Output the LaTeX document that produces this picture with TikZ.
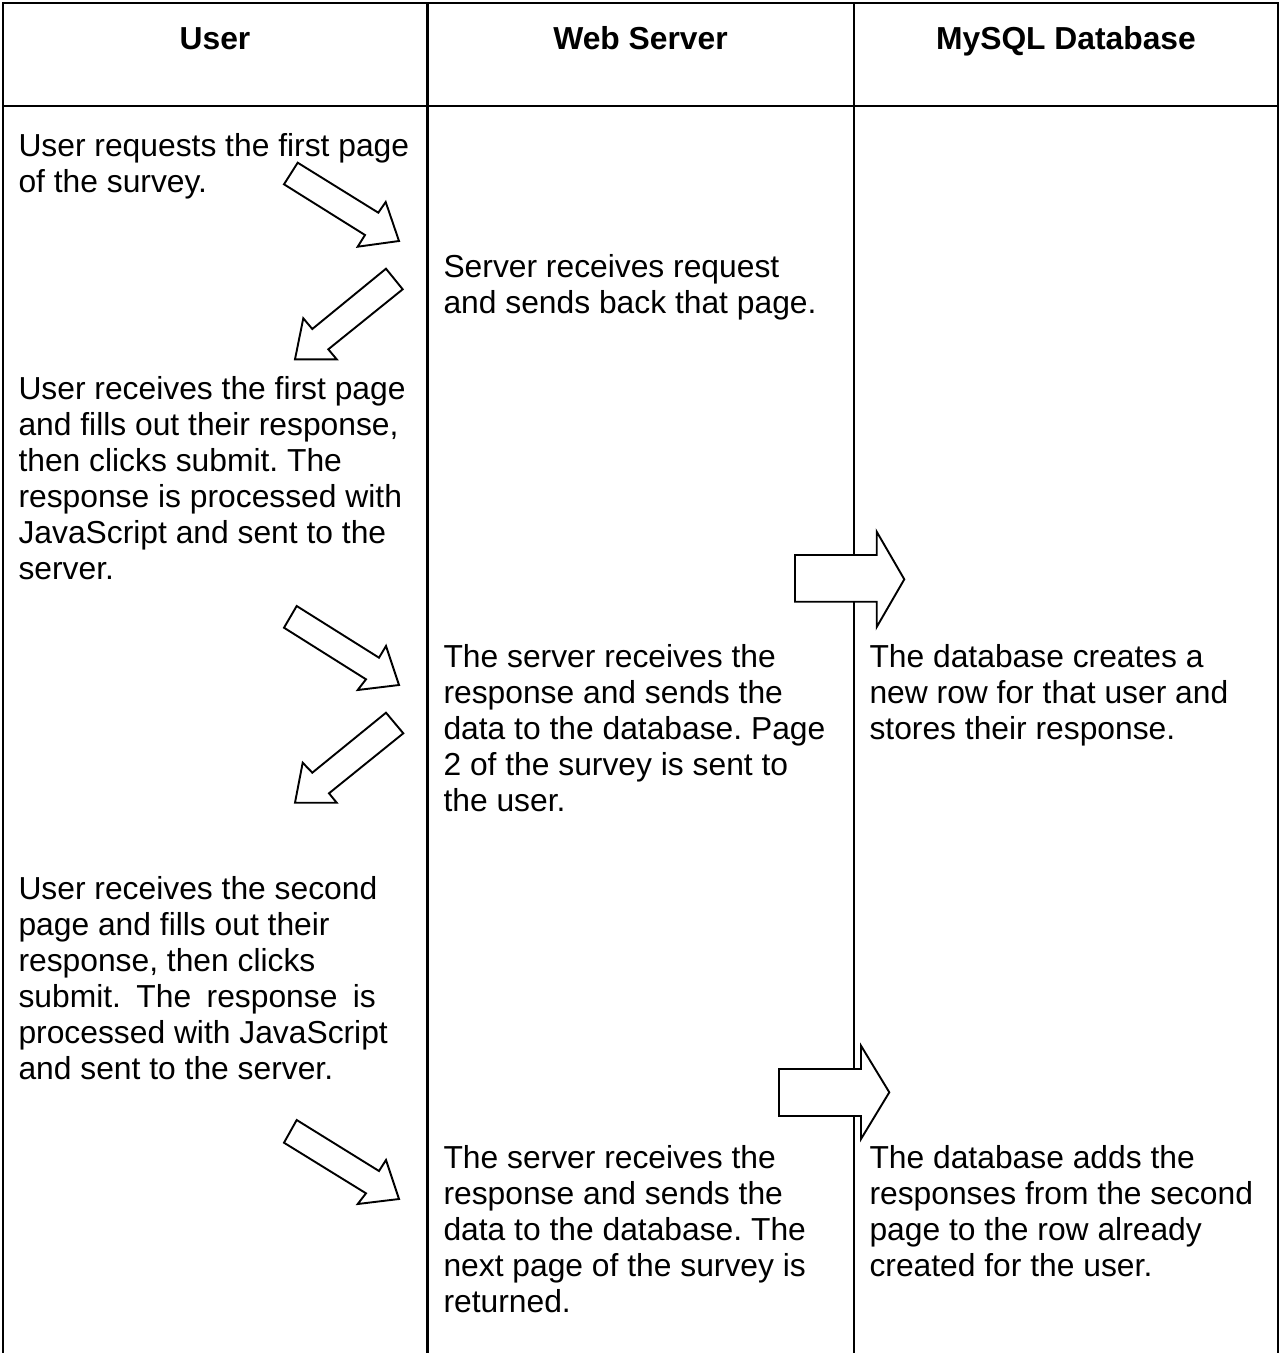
\documentclass[tikz,border=0pt]{standalone}
\usepackage{fontspec}
\setmainfont{Liberation Sans}
\frenchspacing
\begin{document}
\begin{tikzpicture}[x=0.3774pt,y=-0.3774pt,
  gridline/.style={line width=0.94pt, line cap=rect},
  blockarrow/.style={draw=black, fill=white, line width=0.72pt, line join=miter},
  hdr/.style={inner sep=0pt, anchor=base, font=\fontsize{12}{13.62}\selectfont\bfseries},
  txt/.style={inner sep=0pt, anchor=base west, font=\fontsize{12}{13.62}\selectfont}]
\useasboundingbox (0,0) rectangle (1279,1353);
% table grid
\draw[gridline] (3,1353) -- (3,3) -- (1278,3) -- (1278,1353);
\draw[gridline] (3,106) -- (1278,106);
\draw[gridline] (427.5,3) -- (427.5,1353);
\draw[gridline] (854,3) -- (854,1353);
% headers
\node[hdr] (h1) at (215,49) {User};
\node[hdr] (h2) at (640.5,49) {Web Server};
\node[hdr] (h3) at (1066,49) {MySQL Database};
% texts
\newcommand{\cell}[1]{\parbox[t]{200pt}{\frenchspacing\fontsize{12}{13.62}\selectfont #1}}
\newcommand{\wsp}{\hspace{2.5pt} }
\node[txt] (u1) at (18,156) {\cell{User requests the first page\\of the survey.}};
\node[txt] (s1) at (443,277) {\cell{Server receives request\\and sends back that page.}};
\node[txt] (u2) at (18,399) {\cell{User receives the first page\\and fills out their response,\\then clicks submit. The\\response is processed with\\JavaScript and sent to the\\server.}};
\node[txt] (s2) at (443,667) {\cell{The server receives the\\response and sends the\\data to the database. Page\\2 of the survey is sent to\\the user.}};
\node[txt] (d2) at (869,667) {\cell{The database creates a\\new row for that user and\\stores their response.}};
\node[txt] (u3) at (18,899) {\cell{User receives the second\\page and fills out their\\response, then clicks\\submit.\wsp The\wsp response\wsp is\\processed with JavaScript\\and sent to the server.}};
\node[txt] (s3) at (443,1168) {\cell{The server receives the\\response and sends the\\data to the database. The\\next page of the survey is\\returned.}};
\node[txt] (d3) at (869,1168) {\cell{The database adds the\\responses from the second\\page to the row already\\created for the user.}};
% block arrows
\draw[blockarrow] (297.7,162.7) -- (378.3,212.7) -- (385.7,202) -- (399,241) -- (357.7,246.7) -- (365,235) -- (284,184.3) -- cycle;
\draw[blockarrow] (386,268.7) -- (402.7,289.3) -- (328.3,349.3) -- (336.7,359.3) -- (295,359.3) -- (303.3,318.3) -- (312.3,329) -- cycle;
\draw[blockarrow] (296.7,606) -- (379,657.7) -- (386,646) -- (399,685) -- (357.7,690) -- (366,679.3) -- (284,627.7) -- cycle;
\draw[blockarrow] (386,712.7) -- (403.3,733.3) -- (329,793.3) -- (336.7,802.7) -- (295,802.7) -- (302.7,762.7) -- (312.3,772.7) -- cycle;
\draw[blockarrow] (296.7,1120) -- (379,1171) -- (386,1160) -- (399,1199) -- (357.7,1204) -- (366,1193.3) -- (284,1142.7) -- cycle;
\draw[blockarrow] (795,555) -- (876.7,555) -- (876.7,531.7) -- (904.3,579.3) -- (876.7,627) -- (876.7,601.7) -- (795,601.7) -- cycle;
\draw[blockarrow] (779,1069) -- (861,1069) -- (861,1045.7) -- (889.3,1092.3) -- (861,1139) -- (861,1116) -- (779,1116) -- cycle;
\end{tikzpicture}
\end{document}
